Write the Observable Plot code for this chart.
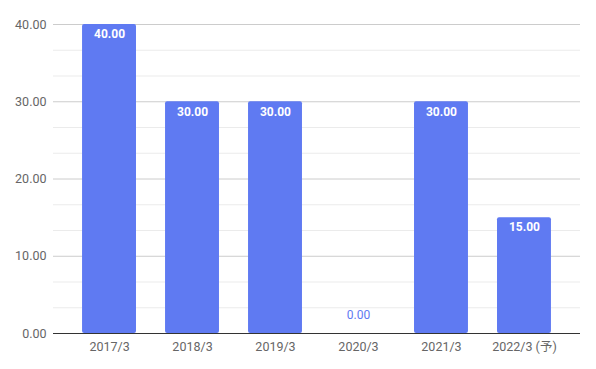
<!DOCTYPE html>
<html>
<head>
<meta charset="utf-8">
<script src="https://cdn.jsdelivr.net/npm/d3@7"></script>
<script src="https://cdn.jsdelivr.net/npm/@observablehq/plot@0.6"></script>
<style>
  body { margin: 0; background: #fff; }
  #chart svg { display: block; }
</style>
</head>
<body>
<div id="chart"></div>
<script>
const categories = ["2017/3", "2018/3", "2019/3", "2020/3", "2021/3", "2022/3 (予)"];
const values = [40, 30, 30, 0, 30, 15];
const yTicks = [0, 10, 20, 30, 40];
const minorTicks = [10/3, 20/3, 40/3, 50/3, 70/3, 80/3, 100/3, 110/3];

const data = categories.map((c, i) => ({ cat: c, value: values[i] }));
const barColor = "#5f7af2";
const font = "Roboto, 'Noto Sans CJK JP', sans-serif";

const chart = Plot.plot({
  width: 596,
  height: 369,
  marginLeft: 53,
  marginRight: 16,
  marginTop: 24,
  marginBottom: 36,
  style: { fontFamily: font, fontSize: "12px", background: "#fff" },
  x: { domain: categories, padding: 0.35, round: false, label: null },
  y: { domain: [0, 40], label: null },
  marks: [
    Plot.ruleY(minorTicks, { stroke: "#ebebeb", strokeWidth: 1 }),
    Plot.ruleY(yTicks.filter(d => d !== 0), { stroke: "#cccccc", strokeWidth: 1 }),
    Plot.barY(data.filter(d => d.value > 0), { x: "cat", y: "value", fill: barColor, rx: 2 }),
    Plot.ruleY([0], { stroke: "#333333", strokeWidth: 1.2 }),
    Plot.axisY({ ticks: yTicks, tickFormat: d => d.toFixed(2), tickSize: 0, tickPadding: 7, fill: "#666", fontSize: 12.5, label: null }),
    Plot.axisX({ tickSize: 0, tickPadding: 9, fill: "#666", fontSize: 12.5, label: null }),
    Plot.text(data.filter(d => d.value > 0), { x: "cat", y: "value", text: d => d.value.toFixed(2), dy: 10, fill: "#fff", fontWeight: "bold", fontSize: 12 }),
    Plot.text(data.filter(d => d.value === 0), { x: "cat", y: "value", text: d => d.value.toFixed(2), dy: -18, fill: barColor, fontSize: 12 })
  ]
});
document.getElementById("chart").appendChild(chart);
</script>
</body>
</html>
